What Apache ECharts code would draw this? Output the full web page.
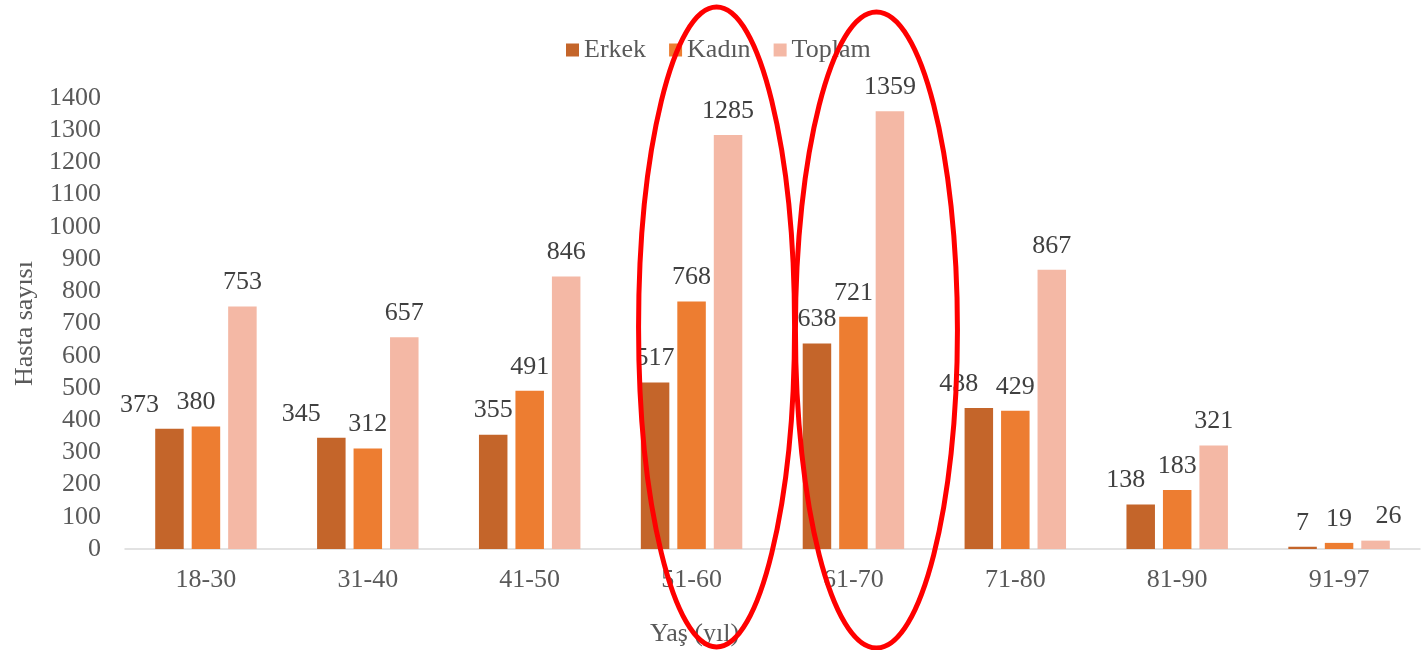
<!DOCTYPE html>
<html>
<head>
<meta charset="utf-8">
<script src="https://cdn.jsdelivr.net/npm/echarts@6/dist/echarts.min.js"></script>
<style>html,body{margin:0;padding:0;background:#fff}#c{width:1422px;height:650px}</style>
</head>
<body>
<div id="c"></div>
<script>
const categories = ['18-30','31-40','41-50','51-60','61-70','71-80','81-90','91-97'];
const erkek  = [373, 345, 355, 517, 638, 438, 138, 7];
const kadin  = [380, 312, 491, 768, 721, 429, 183, 19];
const toplam = [753, 657, 846, 1285, 1359, 867, 321, 26];
const yTicks = [0,100,200,300,400,500,600,700,800,900,1000,1100,1200,1300,1400];

// horizontal nudges of data labels (styling, not data)
const erkekShift  = [-30, -30, 0, 0, 0, -20, -15, 0];
const kadinShift  = [-10, 0, 0, 0, 0, 0, 0, 0];
const toplamShift = [0, 0, 0, 0, 0, 0, 0, 13];

const chart = echarts.init(document.getElementById('c'));
const font = '"Liberation Serif", "Times New Roman", serif';
const FS = 26;
const lbl = (dx) => ({
  show: true, position: 'top', distance: 11, offset: [dx || 0, 0],
  color: '#404040', fontFamily: font, fontSize: FS
});
const mk = (vals, shifts) => vals.map((v, i) => ({ value: v, label: lbl(shifts[i]) }));

const option = {
  animation: false,
  textStyle: { fontFamily: font },
  legend: {
    top: 32, left: 561,
    itemWidth: 13, itemHeight: 13, itemGap: 23,
    icon: 'rect',
    textStyle: { color: '#595959', fontFamily: font, fontSize: FS },
    data: ['Erkek','Kadın','Toplam']
  },
  grid: { left: 125, right: 2, top: 98, bottom: 101, outerBoundsMode: 'none', containLabel: false },
  xAxis: {
    type: 'category', data: categories,
    axisLine: { lineStyle: { color: '#d9d9d9', width: 1.5 } },
    axisTick: { show: false },
    axisLabel: { color: '#595959', fontFamily: font, fontSize: FS, margin: 18 },
    name: 'Yaş (yıl)', nameLocation: 'middle', nameGap: 72,
    nameTextStyle: { color: '#595959', fontFamily: font, fontSize: FS, padding: [0,156,0,0] }
  },
  yAxis: {
    type: 'value', min: yTicks[0], max: yTicks[yTicks.length-1], interval: yTicks[1]-yTicks[0],
    splitLine: { show: false },
    axisLine: { show: false }, axisTick: { show: false },
    axisLabel: { color: '#595959', fontFamily: font, fontSize: FS, margin: 24, formatter: v => String(v) },
    name: 'Hasta sayısı', nameLocation: 'middle', nameGap: 84,
    nameTextStyle: { color: '#595959', fontFamily: font, fontSize: FS }
  },
  series: [
    { name: 'Erkek', type: 'bar', barWidth: 28.5, barGap: '28%',
      itemStyle: { color: '#C4652A' }, data: mk(erkek, erkekShift) },
    { name: 'Kadın', type: 'bar', barWidth: 28.5, barGap: '28%',
      itemStyle: { color: '#ED7D31' }, data: mk(kadin, kadinShift) },
    { name: 'Toplam', type: 'bar', barWidth: 28.5, barGap: '28%',
      itemStyle: { color: '#F4B8A5' }, data: mk(toplam, toplamShift) }
  ]
};
chart.setOption(option);

// red annotation ellipses around 51-60 and 61-70, anchored via the axis scale
const ring = (cat, dx, rx, ry, cy, rot) => {
  const c = chart.convertToPixel({ gridIndex: 0 }, [cat, 0]);
  return {
    type: 'ellipse', z: 100, silent: true,
    x: c[0] + dx, y: cy, rotation: rot,
    shape: { cx: 0, cy: 0, rx: rx, ry: ry },
    style: { fill: 'none', stroke: '#FF0000', lineWidth: 5 }
  };
};
chart.setOption({ graphic: [ring('51-60', 25, 78, 320, 327, 0), ring('61-70', 23, 81, 318, 330, 0)] });
</script>
</body>
</html>
